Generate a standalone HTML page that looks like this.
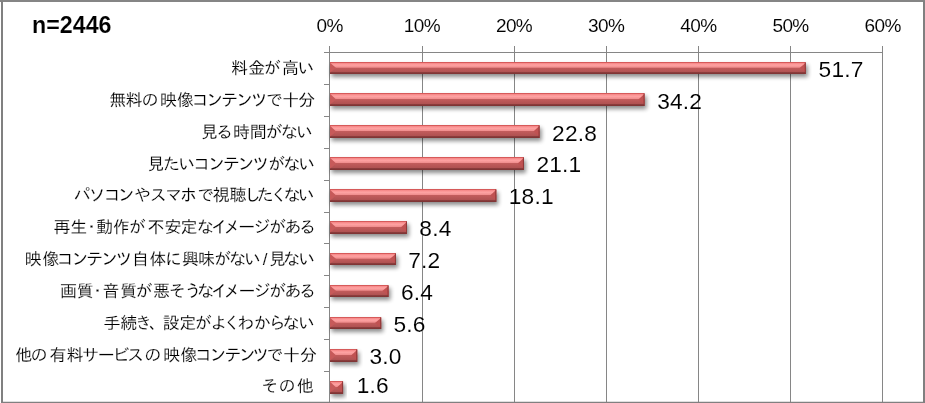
<!DOCTYPE html>
<html lang="ja">
<head>
<meta charset="utf-8">
<title>n=2446</title>
<style>
html,body{margin:0;padding:0;background:#fff;}
body{width:925px;height:403px;overflow:hidden;}
svg{display:block;will-change:transform;}
.jp{font-family:"Liberation Sans","IPAGothic","Noto Sans CJK JP",sans-serif;font-size:17px;fill:#000;stroke:#fff;stroke-width:0.15px;}
.ax{font-family:"Liberation Sans",sans-serif;font-size:19px;fill:#000;stroke:#fff;stroke-width:0.08px;letter-spacing:-0.6px;}
.dl{font-family:"Liberation Sans",sans-serif;font-size:22.7px;fill:#000;stroke:#fff;stroke-width:0.08px;letter-spacing:0.2px;}
.ttl{font-family:"Liberation Sans","IPAGothic",sans-serif;font-weight:bold;font-size:24px;fill:#000;stroke:#fff;stroke-width:0.12px;}
</style>
</head>
<body>
<svg width="925" height="403" viewBox="0 0 925 403">
<defs>
<linearGradient id="bg" x1="0" y1="0" x2="0" y2="1">
<stop offset="0" stop-color="#d65a5a"/>
<stop offset="0.083" stop-color="#d65a5a"/>
<stop offset="0.084" stop-color="#f58585"/>
<stop offset="0.25" stop-color="#ffa3a3"/>
<stop offset="0.44" stop-color="#f08e8e"/>
<stop offset="0.50" stop-color="#c25c5c"/>
<stop offset="0.82" stop-color="#b05252"/>
<stop offset="0.87" stop-color="#8c3d3d"/>
<stop offset="1" stop-color="#7a3232"/>
</linearGradient>
<filter id="sh" x="-5%" y="-60%" width="115%" height="260%">
<feGaussianBlur stdDeviation="2"/>
</filter>
</defs>
<rect x="0" y="0" width="925" height="403" fill="#fff"/>

<line x1="329.50" y1="46" x2="329.50" y2="402" stroke="#868686" stroke-width="1"/>
<line x1="422.50" y1="46" x2="422.50" y2="402" stroke="#868686" stroke-width="1"/>
<line x1="514.50" y1="46" x2="514.50" y2="402" stroke="#868686" stroke-width="1"/>
<line x1="606.50" y1="46" x2="606.50" y2="402" stroke="#868686" stroke-width="1"/>
<line x1="698.50" y1="46" x2="698.50" y2="402" stroke="#868686" stroke-width="1"/>
<line x1="790.50" y1="46" x2="790.50" y2="402" stroke="#868686" stroke-width="1"/>
<line x1="882.50" y1="46" x2="882.50" y2="402" stroke="#868686" stroke-width="1"/>
<line x1="324" y1="52.5" x2="883" y2="52.5" stroke="#868686" stroke-width="1"/>
<line x1="324" y1="84.50" x2="329.5" y2="84.50" stroke="#868686" stroke-width="1"/>
<line x1="324" y1="116.50" x2="329.5" y2="116.50" stroke="#868686" stroke-width="1"/>
<line x1="324" y1="148.50" x2="329.5" y2="148.50" stroke="#868686" stroke-width="1"/>
<line x1="324" y1="180.50" x2="329.5" y2="180.50" stroke="#868686" stroke-width="1"/>
<line x1="324" y1="212.50" x2="329.5" y2="212.50" stroke="#868686" stroke-width="1"/>
<line x1="324" y1="243.50" x2="329.5" y2="243.50" stroke="#868686" stroke-width="1"/>
<line x1="324" y1="275.50" x2="329.5" y2="275.50" stroke="#868686" stroke-width="1"/>
<line x1="324" y1="307.50" x2="329.5" y2="307.50" stroke="#868686" stroke-width="1"/>
<line x1="324" y1="339.50" x2="329.5" y2="339.50" stroke="#868686" stroke-width="1"/>
<line x1="324" y1="371.50" x2="329.5" y2="371.50" stroke="#868686" stroke-width="1"/>
<rect x="331.50" y="65.00" width="476.26" height="12" fill="#000" opacity="0.45" filter="url(#sh)"/>
<rect x="330.00" y="62.00" width="475.76" height="12" fill="url(#bg)"/>
<polygon points="330.00,62.80 336.20,68.00 330.00,72.40" fill="#c75a5a"/>
<polygon points="805.76,62.80 799.56,68.00 805.76,72.40" fill="#c05252"/>
<rect x="804.76" y="62.50" width="1" height="11.5" fill="#8a3434" opacity="0.9"/>
<rect x="331.50" y="96.00" width="315.08" height="13" fill="#000" opacity="0.45" filter="url(#sh)"/>
<rect x="330.00" y="93.00" width="314.58" height="13" fill="url(#bg)"/>
<polygon points="330.00,93.80 336.20,99.50 330.00,104.40" fill="#c75a5a"/>
<polygon points="644.58,93.80 638.38,99.50 644.58,104.40" fill="#c05252"/>
<rect x="643.58" y="93.50" width="1" height="12.5" fill="#8a3434" opacity="0.9"/>
<rect x="331.50" y="128.00" width="210.09" height="13" fill="#000" opacity="0.45" filter="url(#sh)"/>
<rect x="330.00" y="125.00" width="209.59" height="13" fill="url(#bg)"/>
<polygon points="330.00,125.80 336.20,131.50 330.00,136.40" fill="#c75a5a"/>
<polygon points="539.59,125.80 533.39,131.50 539.59,136.40" fill="#c05252"/>
<rect x="538.59" y="125.50" width="1" height="12.5" fill="#8a3434" opacity="0.9"/>
<rect x="331.50" y="160.00" width="194.43" height="13" fill="#000" opacity="0.45" filter="url(#sh)"/>
<rect x="330.00" y="157.00" width="193.93" height="13" fill="url(#bg)"/>
<polygon points="330.00,157.80 336.20,163.50 330.00,168.40" fill="#c75a5a"/>
<polygon points="523.93,157.80 517.73,163.50 523.93,168.40" fill="#c05252"/>
<rect x="522.93" y="157.50" width="1" height="12.5" fill="#8a3434" opacity="0.9"/>
<rect x="331.50" y="192.00" width="166.80" height="13" fill="#000" opacity="0.45" filter="url(#sh)"/>
<rect x="330.00" y="189.00" width="166.30" height="13" fill="url(#bg)"/>
<polygon points="330.00,189.80 336.20,195.50 330.00,200.40" fill="#c75a5a"/>
<polygon points="496.30,189.80 490.10,195.50 496.30,200.40" fill="#c05252"/>
<rect x="495.30" y="189.50" width="1" height="12.5" fill="#8a3434" opacity="0.9"/>
<rect x="331.50" y="224.00" width="77.46" height="13" fill="#000" opacity="0.45" filter="url(#sh)"/>
<rect x="330.00" y="221.00" width="76.96" height="13" fill="url(#bg)"/>
<polygon points="330.00,221.80 336.20,227.50 330.00,232.40" fill="#c75a5a"/>
<polygon points="406.96,221.80 400.76,227.50 406.96,232.40" fill="#c05252"/>
<rect x="405.96" y="221.50" width="1" height="12.5" fill="#8a3434" opacity="0.9"/>
<rect x="331.50" y="256.00" width="66.41" height="12" fill="#000" opacity="0.45" filter="url(#sh)"/>
<rect x="330.00" y="253.00" width="65.91" height="12" fill="url(#bg)"/>
<polygon points="330.00,253.80 336.20,259.00 330.00,263.40" fill="#c75a5a"/>
<polygon points="395.91,253.80 389.71,259.00 395.91,263.40" fill="#c05252"/>
<rect x="394.91" y="253.50" width="1" height="11.5" fill="#8a3434" opacity="0.9"/>
<rect x="331.50" y="288.00" width="59.04" height="12" fill="#000" opacity="0.45" filter="url(#sh)"/>
<rect x="330.00" y="285.00" width="58.54" height="12" fill="url(#bg)"/>
<polygon points="330.00,285.80 336.20,291.00 330.00,295.40" fill="#c75a5a"/>
<polygon points="388.54,285.80 382.34,291.00 388.54,295.40" fill="#c05252"/>
<rect x="387.54" y="285.50" width="1" height="11.5" fill="#8a3434" opacity="0.9"/>
<rect x="331.50" y="320.00" width="51.68" height="12" fill="#000" opacity="0.45" filter="url(#sh)"/>
<rect x="330.00" y="317.00" width="51.18" height="12" fill="url(#bg)"/>
<polygon points="330.00,317.80 336.20,323.00 330.00,327.40" fill="#c75a5a"/>
<polygon points="381.18,317.80 374.98,323.00 381.18,327.40" fill="#c05252"/>
<rect x="380.18" y="317.50" width="1" height="11.5" fill="#8a3434" opacity="0.9"/>
<rect x="331.50" y="352.00" width="27.73" height="13" fill="#000" opacity="0.45" filter="url(#sh)"/>
<rect x="330.00" y="349.00" width="27.23" height="13" fill="url(#bg)"/>
<polygon points="330.00,349.80 336.20,355.50 330.00,360.40" fill="#c75a5a"/>
<polygon points="357.23,349.80 351.03,355.50 357.23,360.40" fill="#c05252"/>
<rect x="356.23" y="349.50" width="1" height="12.5" fill="#8a3434" opacity="0.9"/>
<rect x="331.50" y="384.00" width="13.55" height="13" fill="#000" opacity="0.45" filter="url(#sh)"/>
<rect x="330.00" y="381.00" width="13.05" height="13" fill="url(#bg)"/>
<polygon points="330.00,381.80 336.20,387.50 330.00,392.40" fill="#c75a5a"/>
<polygon points="343.05,381.80 336.85,387.50 343.05,392.40" fill="#c05252"/>
<rect x="342.05" y="381.50" width="1" height="12.5" fill="#8a3434" opacity="0.9"/>
<text class="jp" text-anchor="middle" x="239.5 256.7 272.2 290.6 306.1" y="73.80">料金が高い</text>
<text class="jp" text-anchor="middle" x="117.8 134.0 150.0 168.6 185.6 200.3 214.7 229.7 244.5 259.2 274.5 290.8 306.7" y="105.70">無料の映像コンテンツで十分</text>
<text class="jp" text-anchor="middle" x="209.5 224.4 241.6 258.2 274.0 289.3 304.5" y="137.60">見る時間がない</text>
<text class="jp" text-anchor="middle" x="155.9 171.4 186.7 201.8 216.5 231.6 245.9 260.7 276.5 291.8 306.8" y="169.50">見たいコンテンツがない</text>
<text class="jp" text-anchor="middle" x="82.3 97.0 112.2 126.2 142.4 158.2 173.7 188.4 205.8 221.3 238.1 252.5 265.2 279.0 291.9 306.3" y="201.40">パソコンやスマホで視聴したくない</text>
<text class="jp" text-anchor="middle" x="62.0 78.8 91.4 104.5 121.2 137.3 156.0 172.9 188.9 205.2 219.4 232.0 246.8 262.0 277.4 293.0 307.6" y="233.30">再生・動作が不安定なイメージがある</text>
<text class="jp" text-anchor="middle" x="33.3 50.9 65.3 80.1 94.8 109.6 124.0 140.4 158.1 173.6 190.4 206.6 222.4 237.6 252.6 265.1 277.6 291.6 306.8" y="265.20">映像コンテンツ自体に興味がない/見ない</text>
<text class="jp" text-anchor="middle" x="68.4 85.2 97.5 110.9 128.8 143.9 161.5 177.2 193.1 205.5 219.6 232.1 247.0 262.3 277.6 293.1 307.5" y="297.10">画質・音質が悪そうなイメージがある</text>
<text class="jp" text-anchor="middle" x="112.0 128.8 143.6 157.5 171.3 187.8 203.3 219.0 232.0 245.7 262.2 277.0 291.0 306.5" y="329.00">手続き、設定がよくわからない</text>
<text class="jp" text-anchor="middle" x="24.0 39.0 58.0 74.9 90.4 106.2 120.9 135.6 152.8 171.7 189.0 203.4 218.1 232.9 247.3 260.8 275.0 291.6 308.6" y="360.90">他の有料サービスの映像コンテンツで十分</text>
<text class="jp" text-anchor="middle" x="269.7 287.0 305.6" y="391.70">その他</text>
<text class="dl" x="818.57" y="76.70">51.7</text>
<text class="dl" x="657.22" y="108.60">34.2</text>
<text class="dl" x="552.12" y="140.50">22.8</text>
<text class="dl" x="536.44" y="172.40">21.1</text>
<text class="dl" x="508.78" y="204.30">18.1</text>
<text class="dl" x="419.35" y="236.20">8.4</text>
<text class="dl" x="408.28" y="268.10">7.2</text>
<text class="dl" x="400.91" y="300.00">6.4</text>
<text class="dl" x="393.53" y="331.90">5.6</text>
<text class="dl" x="369.56" y="363.80">3.0</text>
<text class="dl" x="356.65" y="393.10">1.6</text>
<text class="ax" x="329.70" y="32.3" text-anchor="middle">0%</text>
<text class="ax" x="421.87" y="32.3" text-anchor="middle">10%</text>
<text class="ax" x="514.04" y="32.3" text-anchor="middle">20%</text>
<text class="ax" x="606.21" y="32.3" text-anchor="middle">30%</text>
<text class="ax" x="698.38" y="32.3" text-anchor="middle">40%</text>
<text class="ax" x="790.55" y="32.3" text-anchor="middle">50%</text>
<text class="ax" x="882.72" y="32.3" text-anchor="middle">60%</text>
<text class="ttl" x="32" y="33.3" textLength="79.5" lengthAdjust="spacingAndGlyphs">n=2446</text>
<rect x="0" y="0" width="925" height="2" fill="#858585"/>
<rect x="1" y="1" width="2" height="402" fill="#808080"/>
<rect x="923" y="1" width="2" height="402" fill="#808080"/>
<rect x="1" y="401.75" width="924" height="1.25" fill="#808080"/>
</svg>
</body>
</html>
